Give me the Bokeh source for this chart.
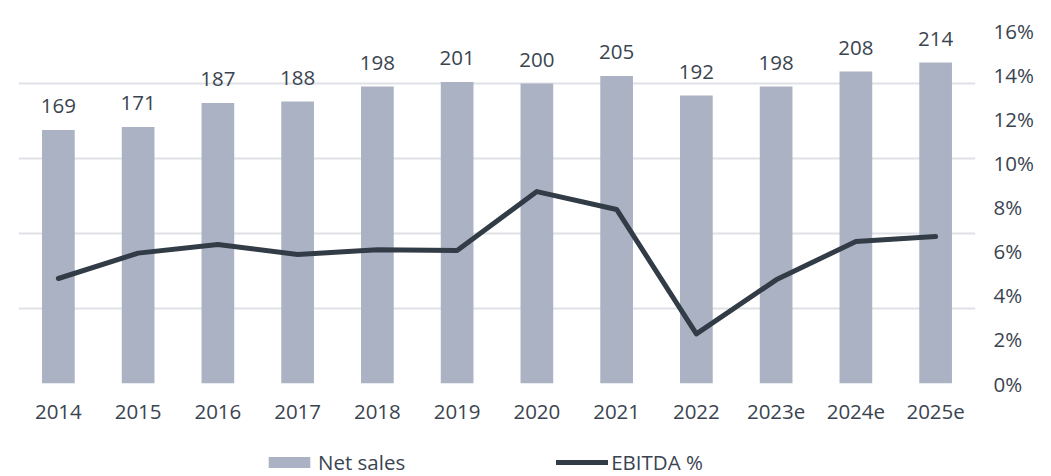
from bokeh.plotting import figure
from bokeh.layouts import column
from bokeh.models import (ColumnDataSource, Range1d, LinearAxis, FixedTicker,
                          NumeralTickFormatter, Legend, LegendItem)
from bokeh.core.properties import value
from bokeh.embed import file_html
from bokeh.resources import INLINE

years = ["2014", "2015", "2016", "2017", "2018", "2019", "2020", "2021",
         "2022", "2023e", "2024e", "2025e"]
net_sales = [169, 171, 187, 188, 198, 201, 200, 205, 192, 198, 208, 214]
ebitda_pct = [0.0476, 0.0591, 0.0630, 0.0585, 0.0606, 0.0603, 0.0870, 0.0789,
              0.0225, 0.0470, 0.0644, 0.0666]
pct_ticks = [0, 0.02, 0.04, 0.06, 0.08, 0.10, 0.12, 0.14, 0.16]
sales_grid = [0, 50, 100, 150, 200, 250]

FONT = "Open Sans"
FS = "20.5px"
TEXT = "#3a4450"
BAR = "#abb2c4"
LINE = "#323c47"
GRID = "#dfe1e6"

src = ColumnDataSource(dict(year=years, sales=net_sales, ebitda=ebitda_pct,
                            lbl=[str(v) for v in net_sales]))

p = figure(x_range=years, y_range=Range1d(0, 250), width=1051, height=432,
           output_backend="svg", toolbar_location=None,
           min_border_left=18, min_border_right=76, min_border_top=8,
           min_border_bottom=49)
p.outline_line_color = None
p.background_fill_color = "white"
p.border_fill_color = "white"

p.extra_y_ranges = {"pct": Range1d(0, 0.17)}

bars = p.vbar(x="year", top="sales", width=0.41, source=src,
              fill_color=BAR, line_color=None)
ln = p.line(x="year", y="ebitda", source=src, y_range_name="pct",
            line_color=LINE, line_width=5, line_join="round", line_cap="round")

p.text(x="year", y="sales", text="lbl", source=src, text_align="center",
       text_baseline="bottom", y_offset=-17, text_font=value(FONT),
       text_font_size=FS, text_color=TEXT)

# left axis hidden, only gridlines
p.yaxis.visible = False
p.yaxis.ticker = FixedTicker(ticks=sales_grid)
p.ygrid.ticker = FixedTicker(ticks=sales_grid)
p.ygrid.grid_line_color = GRID
p.ygrid.grid_line_width = 2
p.xgrid.grid_line_color = None

# right percentage axis
ra = LinearAxis(y_range_name="pct", ticker=FixedTicker(ticks=pct_ticks),
                formatter=NumeralTickFormatter(format="0%"))
ra.axis_line_color = None
ra.major_tick_line_color = None
ra.minor_tick_line_color = None
ra.major_tick_out = 0
ra.major_tick_in = 0
ra.major_label_standoff = 18
ra.major_label_text_font = FONT
ra.major_label_text_font_size = FS
ra.major_label_text_color = TEXT
p.add_layout(ra, "right")

xa = p.xaxis[0]
xa.axis_line_color = None
xa.major_tick_line_color = None
xa.minor_tick_line_color = None
xa.major_tick_out = 0
xa.major_tick_in = 0
xa.major_label_standoff = 21
xa.major_label_text_font = FONT
xa.major_label_text_font_size = FS
xa.major_label_text_color = TEXT

# legend strip below the chart
lf = figure(x_range=years, y_range=Range1d(0, 250), width=1051, height=44,
            output_backend="svg", toolbar_location=None,
            min_border_left=0, min_border_right=0, min_border_top=0,
            min_border_bottom=0)
lf.axis.visible = False
lf.grid.visible = False
lf.outline_line_color = None
lf.border_fill_color = "white"
lbars = lf.vbar(x="year", top="sales", width=0.41, source=src,
                fill_color=BAR, line_color=None, visible=False)
lline = lf.line(x="year", y="ebitda", source=src, line_color=LINE,
                line_width=5, line_cap="round", visible=False)

legend = Legend(items=[LegendItem(label="Net sales", renderers=[lbars]),
                       LegendItem(label="EBITDA %", renderers=[lline])],
                orientation="horizontal", location=(245, 0),
                glyph_width=52, glyph_height=14, label_standoff=3,
                spacing=151, padding=0, margin=0, border_line_color=None,
                background_fill_alpha=0, label_text_font=FONT,
                label_text_font_size=FS, label_text_color=TEXT,
                click_policy="none")
lf.add_layout(legend, "center")

layout = column(p, lf, spacing=0)
open("out.html", "w").write(file_html(layout, INLINE))
